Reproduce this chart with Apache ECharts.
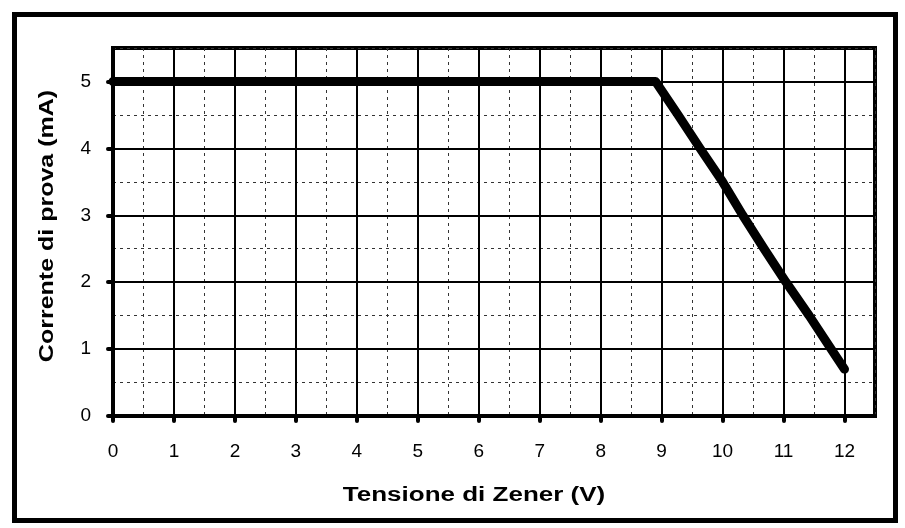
<!DOCTYPE html>
<html>
<head>
<meta charset="utf-8">
<script src="https://cdn.jsdelivr.net/npm/echarts@6/dist/echarts.min.js"></script>
<style>html,body{margin:0;padding:0;background:#fff;}#c{width:905px;height:528px;}</style>
</head>
<body>
<div id="c"></div>
<script>
// Data
const voltage = [0, 8.9, 9.27, 9.63, 10.0, 10.33, 10.68, 11.04, 11.42, 11.78, 12.0];
const current = [5, 5, 4.5, 4.0, 3.5, 3.0, 2.5, 2.0, 1.5, 1.0, 0.7];
const xTicks = [0,1,2,3,4,5,6,7,8,9,10,11,12];
const yTicks = [0,1,2,3,4,5];
const xTitle = 'Tensione di Zener (V)';
const yTitle = 'Corrente di prova (mA)';

const chart = echarts.init(document.getElementById('c'), null, {renderer: 'canvas'});
const font = '"Liberation Sans", Arial, sans-serif';
const minorStyle = {show: true, lineStyle: {color: '#333', width: 1, type: [3, 4]}};

chart.setOption({
  animation: false,
  backgroundColor: '#fff',
  grid: {left: 113, right: 30, top: 48, bottom: 112, show: true, borderColor: '#000', borderWidth: 4, backgroundColor: 'transparent'},
  graphic: [{
    type: 'rect', left: 12, top: 12, z: 100, silent: true,
    shape: {width: 881, height: 506},
    style: {fill: 'none', stroke: '#000', lineWidth: 5}
  }, {
    type: 'text', x: 474, y: 495, scaleX: 1.3, z: 100, silent: true,
    style: {text: xTitle, font: 'bold 20px ' + font, fill: '#000', align: 'center', verticalAlign: 'middle'}
  }, {
    type: 'text', x: 47, y: 226, rotation: Math.PI / 2, scaleX: 1.25, z: 100, silent: true,
    style: {text: yTitle, font: 'bold 20px ' + font, fill: '#000', align: 'center', verticalAlign: 'middle'}
  }],
  xAxis: [{
    type: 'value', min: 0, max: 12.5, interval: 0.5, position: 'top', z: 0,
    axisLine: {show: false}, axisTick: {show: false}, axisLabel: {show: false},
    splitLine: minorStyle
  }, {
    type: 'value', min: 0, max: 12.5, interval: 1, position: 'bottom', z: 2,
    axisLine: {show: true, onZero: false, lineStyle: {color: '#000', width: 4}},
    axisTick: {show: true, customValues: xTicks, length: 5, inside: false, lineStyle: {color: '#000', width: 4, cap: 'round'}},
    axisLabel: {customValues: xTicks, margin: 26, fontFamily: font, fontSize: 19, color: '#000',
      formatter: v => String(v)},
    splitLine: {show: true, lineStyle: {color: '#000', width: 2}}
  }],
  yAxis: [{
    type: 'value', min: 0, max: 5.5, interval: 0.5, position: 'right', z: 0,
    axisLine: {show: false}, axisTick: {show: false}, axisLabel: {show: false},
    splitLine: minorStyle
  }, {
    type: 'value', min: 0, max: 5.5, interval: 1, position: 'left', z: 2,
    axisLine: {show: true, onZero: false, lineStyle: {color: '#000', width: 4}},
    axisTick: {show: true, customValues: yTicks, length: 5, inside: false, lineStyle: {color: '#000', width: 4, cap: 'round'}},
    axisLabel: {customValues: yTicks, margin: 22, fontFamily: font, fontSize: 19, color: '#000',
      formatter: v => String(v)},
    splitLine: {show: true, lineStyle: {color: '#000', width: 2}}
  }],
  series: [{
    type: 'line', xAxisIndex: 1, yAxisIndex: 1, z: 5,
    data: voltage.map((v, i) => [v, current[i]]),
    symbol: 'none', clip: false,
    lineStyle: {color: '#000', width: 9, cap: 'round', join: 'round'}
  }]
});
</script>
</body>
</html>
